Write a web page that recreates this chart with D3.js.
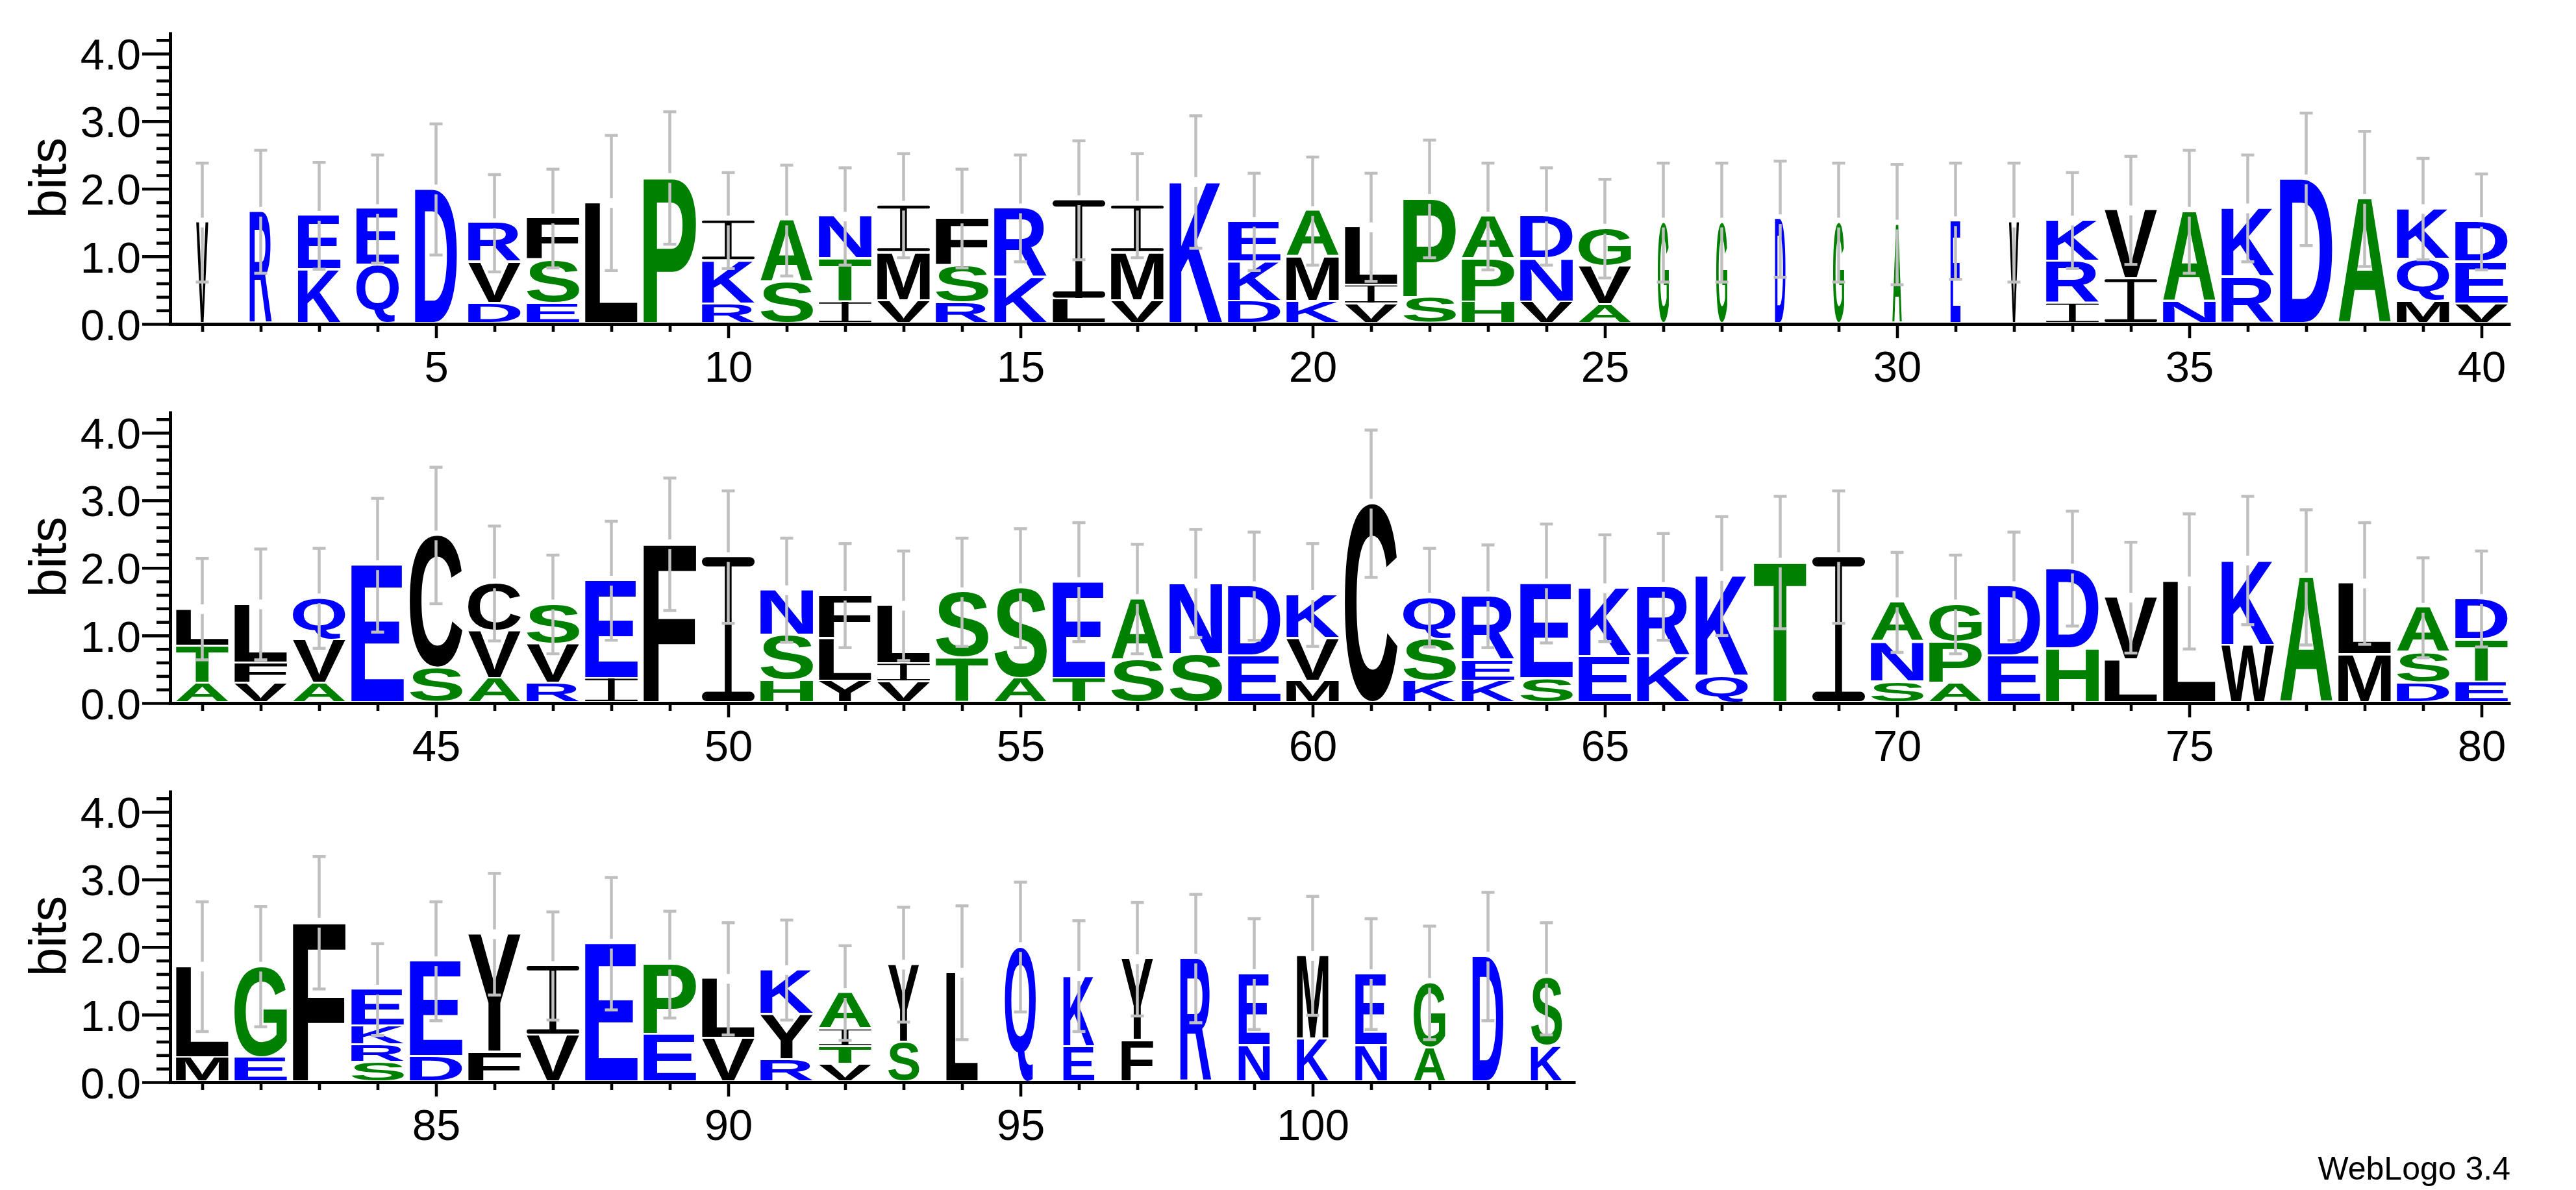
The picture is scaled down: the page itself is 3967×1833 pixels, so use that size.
<!DOCTYPE html>
<html>
<head>
<meta charset="utf-8">
<script src="https://cdn.jsdelivr.net/npm/d3@7"></script>
<style>
  body { margin: 0; background: #fff; }
  svg { display: block; }
</style>
</head>
<body>
<script>
// letters of each stack, bottom to top, one string per position (1..104)
const stackLetters = [
  "V","R","KE","QE","D","DVR","ESF","L","P","RKI",
  "SA","ITN","VMI","RSF","KR","LI","VMI","K","DKE","KMA",
  "VIL","SP","HPA","VND","AVG","G","G","D","G","A",
  "E","V","IRK","IV","NA","RK","D","A","MQK","VED",
  "ATL","VFL","AVQ","E","SC","AVC","RVS","IE","F","I",
  "HSN","YLF","VIL","TS","AS","TE","SA","SN","ED","MVK",
  "C","KSQ","KER","SE","EK","KR","QK","T","I","SNA",
  "APG","ED","HD","LV","L","WK","A","ML","DSA","ETD",
  "ML","EG","F","SRKE","DE","FY","VI","E","EP","VL",
  "RYK","VTIA","SY","L","Q","EK","FY","R","NE","KM",
  "NE","AG","D","KS"
];

// height of each letter in bits, same order as stackLetters
const stackHeights = [
  [1.50],[1.66],[0.80,0.80],[0.86,0.84],[1.99],[0.30,0.61,0.58],[0.30,0.64,0.62],[1.79],[2.16],[0.29,0.64,0.60],
  [0.61,0.92],[0.32,0.64,0.63],[0.34,0.71,0.70],[0.31,0.55,0.70],[0.68,1.03],[0.36,1.47],[0.34,0.71,0.70],[2.10],[0.33,0.58,0.60],[0.33,0.66,0.68],
  [0.29,0.28,0.86],[0.38,1.47],[0.32,0.64,0.63],[0.32,0.64,0.63],[0.28,0.57,0.56],[1.50],[1.50],[1.55],[1.50],[1.47],
  [1.52],[1.50],[0.30,0.62,0.61],[0.66,1.02],[0.33,1.33],[0.69,1.02],[2.14],[1.85],[0.33,0.62,0.75],[0.29,0.62,0.60],
  [0.29,0.55,0.55],[0.29,0.30,0.87],[0.29,0.64,0.62],[2.04],[0.51,1.97],[0.36,0.70,0.71],[0.29,0.58,0.59],[0.36,1.45],[2.35],[2.16],
  [0.33,0.67,0.67],[0.32,0.63,0.64],[0.31,0.27,0.86],[0.66,0.98],[0.36,1.34],[0.36,1.43],[0.63,0.91],[0.71,1.06],[0.69,1.04],[0.32,0.63,0.65],
  [2.95],[0.32,0.62,0.62],[0.32,0.31,0.95],[0.36,1.41],[0.68,1.02],[0.69,1.03],[0.39,1.49],[2.08],[2.16],[0.31,0.59,0.59],
  [0.29,0.61,0.56],[0.69,1.04],[0.80,1.19],[0.63,0.93],[1.80],[0.85,1.26],[1.86],[0.71,1.06],[0.29,0.45,0.67],[0.31,0.62,0.61],
  [0.36,1.35],[0.36,1.35],[2.36],[0.29,0.26,0.28,0.54],[0.37,1.42],[0.44,1.75],[0.69,1.03],[2.05],[0.70,1.04],[0.64,0.89],
  [0.33,0.67,0.66],[0.26,0.26,0.26,0.54],[0.59,1.15],[1.62],[2.00],[0.52,1.05],[0.61,1.21],[1.83],[0.54,1.06],[0.63,1.24],
  [0.54,1.06],[0.50,0.97],[1.86],[0.52,1.01]
];

// stack width as a fraction of a full column (gapped columns are narrower)
const stackWidths = [
  0.23,0.42,0.81,0.81,0.80,1,1,1,1,1,
  1,1,1,1,1,1,1,1,1,1,
  1,1,1,1,1,0.21,0.21,0.20,0.21,0.18,
  0.19,0.19,1,1,1,1,1,1,1,1,
  1,1,1,1,1,1,1,1,1,1,
  1,1,1,1,1,1,1,1,1,1,
  1,1,1,1,1,1,1,1,1,1,
  1,1,1,1,1,1,1,1,1,1,
  1,1,1,1,1,1,1,1,1,1,
  1,1,0.59,0.60,0.59,0.59,0.60,0.59,0.59,0.60,
  0.60,0.60,0.59,0.59
];

// half length of the error bar, in bits
const errorBars = [
  0.88,0.91,0.79,0.80,0.97,0.72,0.73,1.00,0.98,0.71,
  0.82,0.72,0.77,0.73,0.79,0.88,0.77,0.98,0.72,0.80,
  0.80,0.87,0.79,0.72,0.73,0.88,0.88,0.86,0.88,0.89,
  0.86,0.88,0.71,0.80,0.91,0.79,0.98,1.00,0.75,0.71,
  0.75,0.82,0.74,0.99,1.01,0.85,0.73,0.88,0.98,0.98,
  0.77,0.77,0.81,0.80,0.88,0.88,0.81,0.80,0.80,0.76,
  1.09,0.73,0.76,0.88,0.79,0.79,0.88,0.98,0.98,0.74,
  0.73,0.80,0.85,0.82,1.00,0.95,1.00,0.90,0.74,0.71,
  0.96,0.89,0.98,0.68,0.88,0.90,0.80,0.98,0.79,0.83,
  0.74,0.70,0.85,0.99,0.96,0.82,0.84,0.95,0.82,0.88,
  0.82,0.84,0.95,0.83
];

const yTickLabels = ["0.0", "1.0", "2.0", "3.0", "4.0"];
const yTicks = [0,0.2,0.4,0.6,0.8,1,1.2,1.4,1.6,1.8,2,2.2,2.4,2.6,2.8,3,3.2,3.4,3.6,3.8,4,4.2];
const yMax = 4.3219;
const perRow = 40;

// layout
const width = 3967, height = 1833;
const rowBaselines = [499, 1083, 1667];
const bitPx = 104.1;
const xLeft = 266.5, step = 90, letterW = 81;
const axisX = 262;
const font = '"Liberation Sans", Arial, Helvetica, sans-serif';

const colorOf = ch => "RKDENQ".includes(ch) ? "#0000ff"
  : "SGHTAP".includes(ch) ? "#008000" : "#000000";

// measure glyph ink with canvas so letters can be stretched into their boxes
const FS = 200;
const ctx = document.createElement("canvas").getContext("2d");
ctx.font = `bold ${FS}px "Liberation Sans"`;
const inkCache = {};
function ink(ch) {
  if (!inkCache[ch]) {
    const m = ctx.measureText(ch);
    inkCache[ch] = {l: m.actualBoundingBoxLeft, r: m.actualBoundingBoxRight,
                    a: m.actualBoundingBoxAscent, d: m.actualBoundingBoxDescent};
  }
  return inkCache[ch];
}

function placeGlyph(g, ch, x0, y0, w, h, col) {
  const m = ink(ch);
  g.append("text")
    .text(ch)
    .attr("font-family", font)
    .attr("font-weight", "bold")
    .attr("font-size", FS)
    .attr("fill", col)
    .attr("transform", `translate(${x0},${y0}) scale(${w / (m.l + m.r)},${h / (m.a + m.d)}) translate(${m.l},${m.a})`);
}

function drawLetter(g, ch, x0, y0, w, h) {
  const col = colorOf(ch);
  if (ch === "I") {
    // WebLogo style I: thin stem with rounded bars
    const bar = Math.max(1.5, h * 0.065), stem = w * 0.135;
    placeGlyph(g, "I", x0 + (w - stem) / 2, y0, stem, h, col);
    g.append("rect").attr("x", x0).attr("y", y0).attr("width", w).attr("height", bar)
      .attr("rx", bar / 2).attr("fill", col);
    g.append("rect").attr("x", x0).attr("y", y0 + h - bar).attr("width", w).attr("height", bar)
      .attr("rx", bar / 2).attr("fill", col);
  } else {
    placeGlyph(g, ch, x0, y0, w, h, col);
  }
}

const svg = d3.select("body")
  .append("svg")
  .attr("width", width)
  .attr("height", height);

svg.append("rect").attr("width", width).attr("height", height).attr("fill", "#fff");

rowBaselines.forEach((base, r) => {
  const first = r * perRow;
  const idx = d3.range(first, Math.min(first + perRow, stackLetters.length));
  const n = idx.length;
  const xEnd = xLeft + n * step;

  const x = d3.scaleLinear()
    .domain([first + 0.5, first + 0.5 + n])
    .range([xLeft, xEnd]);
  const y = d3.scaleLinear()
    .domain([0, yMax])
    .range([base, base - yMax * bitPx]);

  const gLetters = svg.append("g");
  const gErr = svg.append("g");

  idx.forEach(i => {
    const cx = x(i + 1);
    const w = letterW * stackWidths[i];
    let cum = 0;
    stackLetters[i].split("").forEach((ch, k) => {
      const h = stackHeights[i][k];
      const yTop = y(cum + h), yBot = y(cum) - 3;
      drawLetter(gLetters, ch, cx - w / 2, yTop, w, yBot - yTop);
      cum += h;
    });

    // error bar centred on the stack top, with a small gap at the centre
    const e = errorBars[i];
    const yc = y(cum), y1 = y(cum + e), y2 = y(cum - e);
    const segs = [[cx, y1, cx, yc - 7.5], [cx, yc + 7.5, cx, y2],
                  [cx - 10, y1, cx + 10, y1], [cx - 10, y2, cx + 10, y2]];
    gErr.selectAll(null)
      .data(segs)
      .enter()
      .append("line")
      .attr("x1", d => d[0]).attr("y1", d => d[1])
      .attr("x2", d => d[2]).attr("y2", d => d[3])
      .attr("stroke", "#bfbfbf")
      .attr("stroke-width", 4.5);
  });

  // Y axis
  const isMajor = d => Math.abs(d - Math.round(d)) < 1e-6;
  const gy = svg.append("g")
    .attr("transform", `translate(${axisX},0)`)
    .call(d3.axisLeft(y)
      .tickValues(yTicks)
      .tickSize(21)
      .tickSizeOuter(0)
      .tickFormat(d => isMajor(d) ? yTickLabels[Math.round(d)] : ""))
    .attr("font-family", font)
    .attr("font-size", 67);
  gy.select(".domain").attr("stroke-width", 5);
  gy.selectAll(".tick line")
    .attr("stroke-width", 4.6)
    .attr("x2", d => isMajor(d) ? -43 : -21);
  gy.selectAll(".tick text")
    .attr("x", -45)
    .attr("dy", "0.36em")
    .attr("fill", "#000");

  // X axis
  const gx = svg.append("g")
    .attr("transform", `translate(0,${base})`)
    .call(d3.axisBottom(x)
      .tickValues(idx.map(i => i + 1))
      .tickSize(12)
      .tickSizeOuter(0)
      .tickFormat(d => d % 5 === 0 ? d : ""))
    .attr("font-family", font)
    .attr("font-size", 67);
  gx.select(".domain")
    .attr("stroke-width", 5)
    .attr("d", `M259.5,0.5H${xEnd}`);
  gx.selectAll(".tick line")
    .attr("stroke-width", 4.6)
    .attr("y2", d => d % 5 === 0 ? 22 : 12);
  gx.selectAll(".tick text")
    .attr("y", 41)
    .attr("fill", "#000");

  // Y axis label
  svg.append("text")
    .attr("transform", `translate(101,${y(yMax / 2)}) rotate(-90)`)
    .attr("text-anchor", "middle")
    .attr("font-family", font)
    .attr("font-size", 80)
    .text("bits");
});

svg.append("text")
  .attr("x", 3866)
  .attr("y", 1817)
  .attr("text-anchor", "end")
  .attr("font-family", font)
  .attr("font-size", 50)
  .text("WebLogo 3.4");
</script>
</body>
</html>
